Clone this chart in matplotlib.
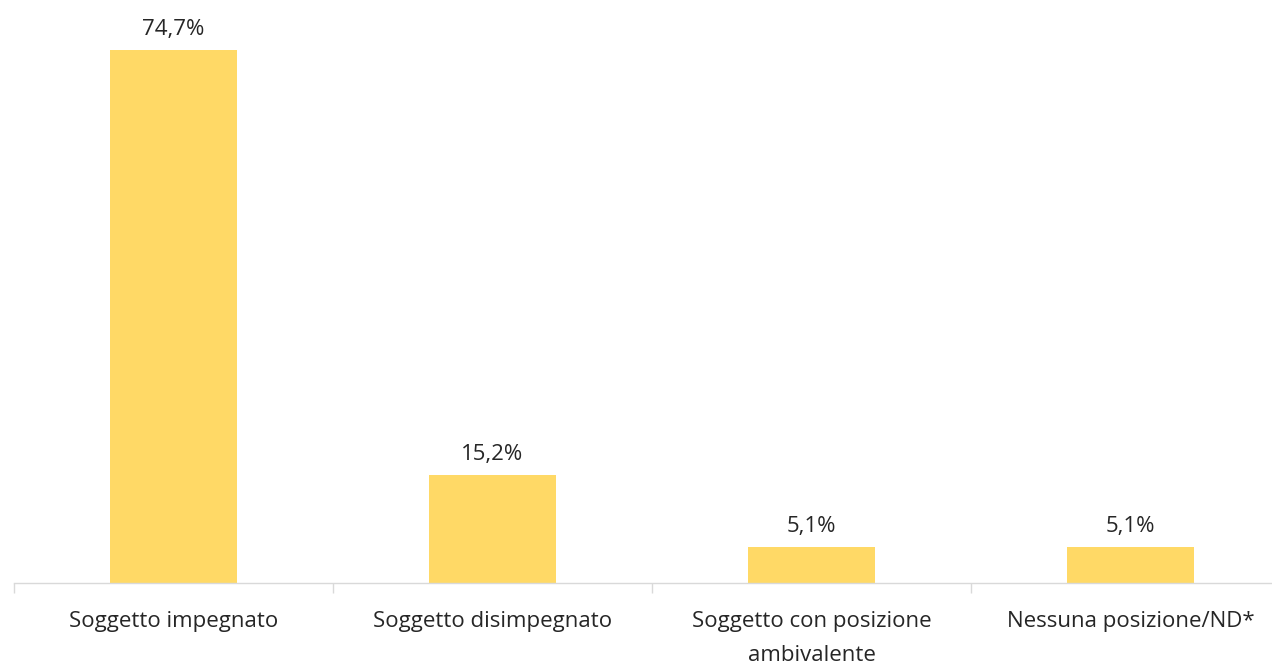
import matplotlib
matplotlib.use("Agg")
import matplotlib.pyplot as plt

categories = ["Soggetto impegnato", "Soggetto disimpegnato",
              "Soggetto con posizione\nambivalente", "Nessuna posizione/ND*"]
values = [74.7, 15.2, 5.1, 5.1]
labels = ["74,7%", "15,2%", "5,1%", "5,1%"]

plt.rcParams['font.family'] = ['Open Sans', 'DejaVu Sans']

W, H = 1272, 666
fig = plt.figure(figsize=(W / 100, H / 100), dpi=100)
ax = fig.add_axes([14 / W, (666 - 583) / H, 1276 / W, 571 / H])

x = list(range(len(categories)))
ax.bar(x, values, width=0.4, color="#FFD966", zorder=2)
ax.set_xlim(-0.5, 3.5)
ax.set_ylim(0, 80)

for xi, v, lab in zip(x, values, labels):
    ax.annotate(lab, (xi, v), xytext=(0, 7), textcoords="offset points",
                ha="center", va="bottom", fontsize=16, color="#262626")

ax.set_xticks([-0.5, 0.5, 1.5, 2.5, 3.5])
ax.set_xticklabels([])
ax.set_xticks(x, minor=True)
ax.set_xticklabels(categories, minor=True, fontsize=16, color="#262626", linespacing=1.85)
ax.tick_params(axis="x", which="major", length=7, color="#D9D9D9", width=1)
ax.tick_params(axis="x", which="minor", length=0, pad=20)
ax.set_yticks([])
for s in ["top", "right", "left"]:
    ax.spines[s].set_visible(False)
ax.spines["bottom"].set_color("#D9D9D9")
ax.spines["bottom"].set_linewidth(1)

fig.savefig("out.png", dpi=100)
